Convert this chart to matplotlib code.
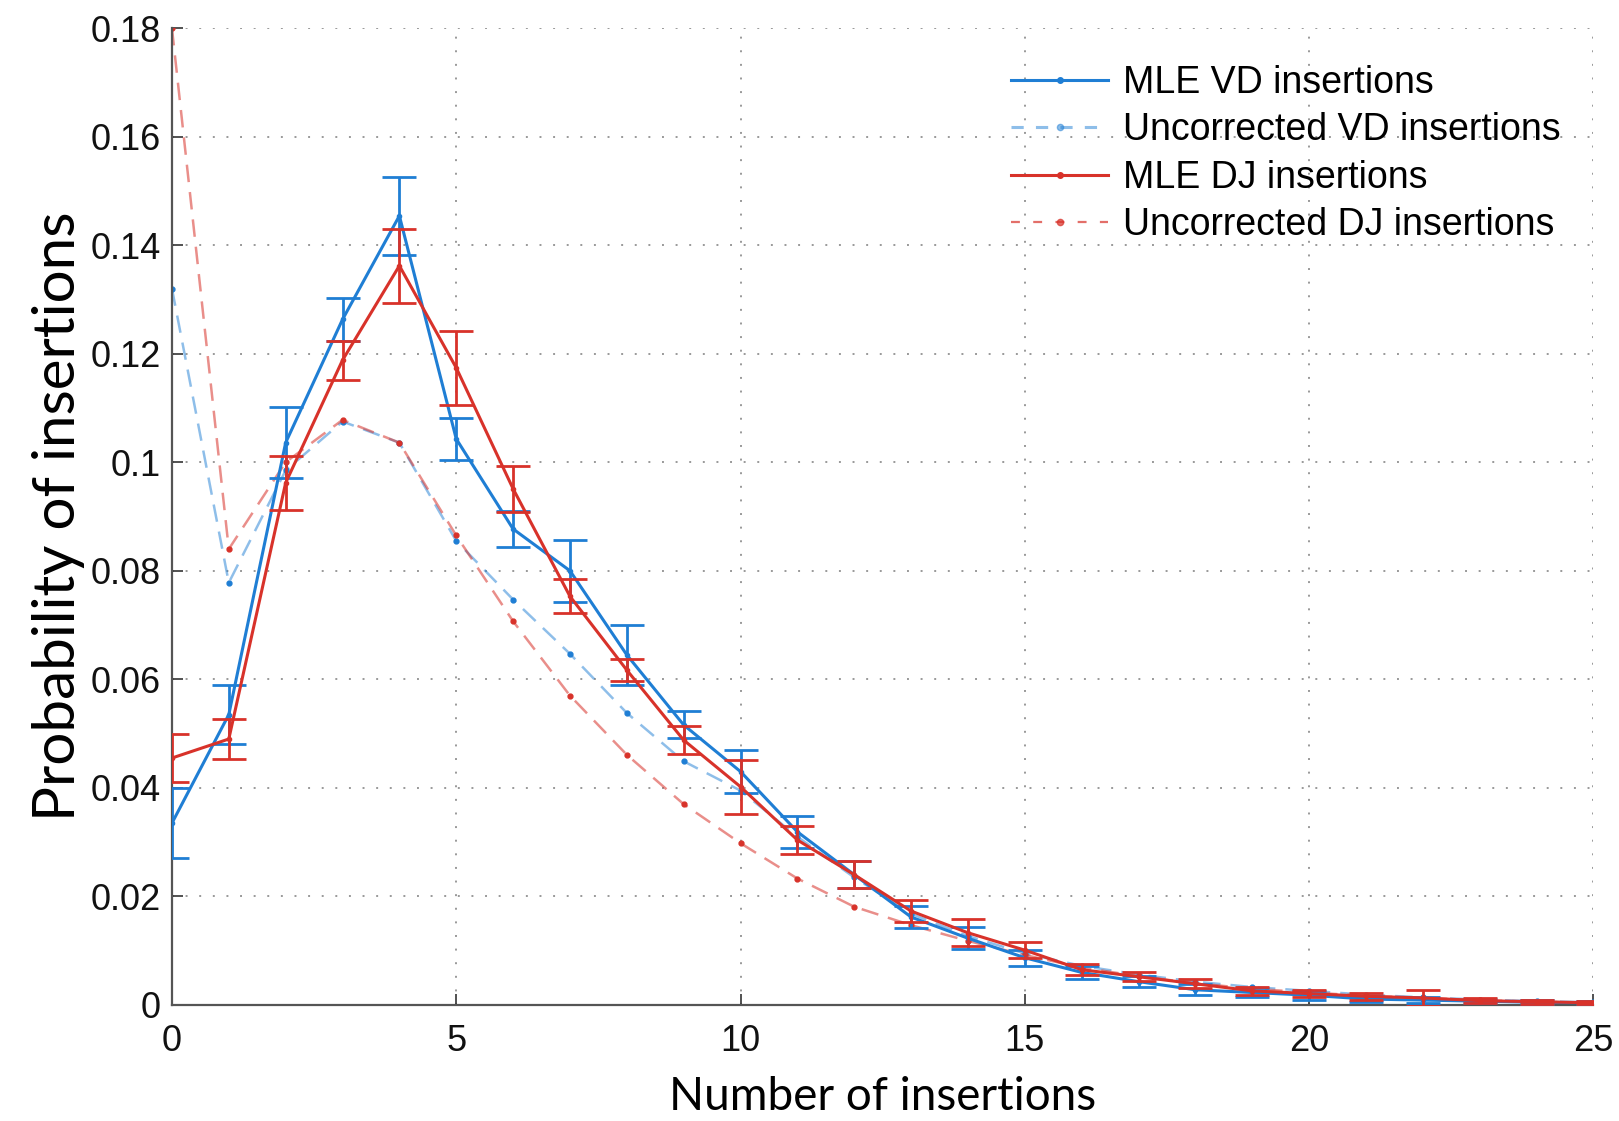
import matplotlib
matplotlib.use("Agg")
import matplotlib.pyplot as plt
import numpy as np

# values
n_ins = list(range(26))
mle_vd = [0.0335, 0.0535, 0.1036, 0.1263, 0.1454, 0.1043, 0.0877, 0.0800, 0.0645, 0.0516,
          0.0430, 0.0319, 0.0240, 0.0162, 0.0123, 0.0087, 0.0060, 0.0043, 0.0028, 0.0023,
          0.0018, 0.0011, 0.0009, 0.0007, 0.0005, 0.0004]
mle_vd_err = [0.0065, 0.0055, 0.0065, 0.0040, 0.0072, 0.0038, 0.0034, 0.0057, 0.0055, 0.0025,
              0.0040, 0.0030, 0.0025, 0.0020, 0.0020, 0.0015, 0.0012, 0.0010, 0.0010, 0.0008,
              0.0008, 0.0006, 0.0006, 0.0004, 0.0004, 0.0003]
mle_dj = [0.0455, 0.0490, 0.0962, 0.1188, 0.1362, 0.1174, 0.0951, 0.0753, 0.0617, 0.0488,
          0.0402, 0.0304, 0.0240, 0.0173, 0.0133, 0.0101, 0.0065, 0.0052, 0.0039, 0.0026,
          0.0021, 0.0016, 0.0013, 0.0008, 0.0006, 0.0004]
mle_dj_err = [0.0045, 0.0037, 0.0050, 0.0036, 0.0068, 0.0068, 0.0042, 0.0031, 0.0021, 0.0026,
              0.0050, 0.0025, 0.0025, 0.0020, 0.0025, 0.0015, 0.0010, 0.0008, 0.0008, 0.0008,
              0.0006, 0.0006, 0.0015, 0.0004, 0.0004, 0.0003]
unc_vd = [0.1320, 0.0778, 0.0985, 0.1075, 0.1036, 0.0855, 0.0747, 0.0647, 0.0538, 0.0449,
          0.0395, 0.0310, 0.0235, 0.0168, 0.0127, 0.0095, 0.0072, 0.0056, 0.0043, 0.0033,
          0.0026, 0.0019, 0.0014, 0.0010, 0.0007, 0.0005]
unc_dj = [0.1800, 0.0840, 0.1000, 0.1078, 0.1036, 0.0865, 0.0707, 0.0570, 0.0461, 0.0370,
          0.0298, 0.0233, 0.0181, 0.0147, 0.0118, 0.0092, 0.0069, 0.0053, 0.0040, 0.0030,
          0.0023, 0.0017, 0.0013, 0.0009, 0.0006, 0.0004]
ytick_vals = [0, 0.02, 0.04, 0.06, 0.08, 0.1, 0.12, 0.14, 0.16, 0.18]
ytick_text = ["0", "0.02", "0.04", "0.06", "0.08", "0.1", "0.12", "0.14", "0.16", "0.18"]
xtick_vals = [0, 5, 10, 15, 20, 25]

blue = "#1f7ed4"
red = "#d8322a"

fig = plt.figure(figsize=(16.19, 11.21), dpi=100)
ax = fig.add_axes([0.1062, 0.1035, 0.878, 0.8715])

ax.errorbar(n_ins, mle_vd, yerr=mle_vd_err, color=blue, lw=2.2, marker='.', ms=6,
            capsize=12, elinewidth=2.0, capthick=2.0, label="MLE VD insertions", zorder=3)
ax.plot(n_ins, unc_vd, color=blue, lw=1.8, ls=(0, (7, 4)), alpha=0.5, zorder=2)
ax.plot(n_ins, unc_vd, color=blue, lw=0, marker='.', ms=7, zorder=2)
ax.errorbar(n_ins, mle_dj, yerr=mle_dj_err, color=red, lw=2.2, marker='.', ms=6,
            capsize=12, elinewidth=2.0, capthick=2.0, label="MLE DJ insertions", zorder=4)
ax.plot(n_ins, unc_dj, color=red, lw=1.8, ls=(0, (7, 4)), alpha=0.55, zorder=2)
ax.plot(n_ins, unc_dj, color=red, lw=0, marker='.', ms=7, zorder=2)

# legend proxies so dashed entries carry a solid dot in the middle
h_vd = plt.Line2D([], [], color=blue, lw=2.2, marker='.', ms=8)
h_uvd = plt.Line2D([], [], color=blue, lw=2.2, ls=(0, (4, 4)), alpha=0.5, marker='.', ms=9)
h_dj = plt.Line2D([], [], color=red, lw=2.2, marker='.', ms=8)
h_udj = plt.Line2D([], [], color=red, lw=1.6, ls=(0, (4, 6)), alpha=0.7, marker='.', ms=9)
ax.legend([h_vd, h_uvd, h_dj, h_udj],
          ["MLE VD insertions", "Uncorrected VD insertions", "MLE DJ insertions",
           "Uncorrected DJ insertions"],
          loc="upper right", bbox_to_anchor=(0.993, 0.985), frameon=False,
          handlelength=2.6, handletextpad=0.4, labelspacing=0.3, numpoints=1,
          borderaxespad=0.2, prop={"family": "Liberation Sans", "size": 27})

ax.set_xlim(0, 25)
ax.set_ylim(0, 0.18)
ax.set_xticks(xtick_vals)
ax.set_yticks(ytick_vals)
ax.set_yticklabels(ytick_text)
for lab in ax.get_xticklabels() + ax.get_yticklabels():
    lab.set_fontfamily("Liberation Sans")
    lab.set_fontsize(26)
ax.tick_params(direction="in", length=8, width=1.2, colors="#333333", labelcolor="#111111")
ax.tick_params(axis="y", pad=8)
ax.tick_params(axis="x", pad=14)
ax.grid(True, ls=(0, (1, 6)), color="#999999", lw=1.4)

for s in ["top", "right"]:
    ax.spines[s].set_visible(False)
for s in ["left", "bottom"]:
    ax.spines[s].set_color("#555555")
    ax.spines[s].set_linewidth(1.6)

ax.set_xlabel("Number of insertions", fontsize=33, family="Lato", labelpad=12)
ax.set_ylabel("Probability of insertions", fontsize=42, family="Lato", labelpad=4)

fig.savefig("out.png", dpi=100)
